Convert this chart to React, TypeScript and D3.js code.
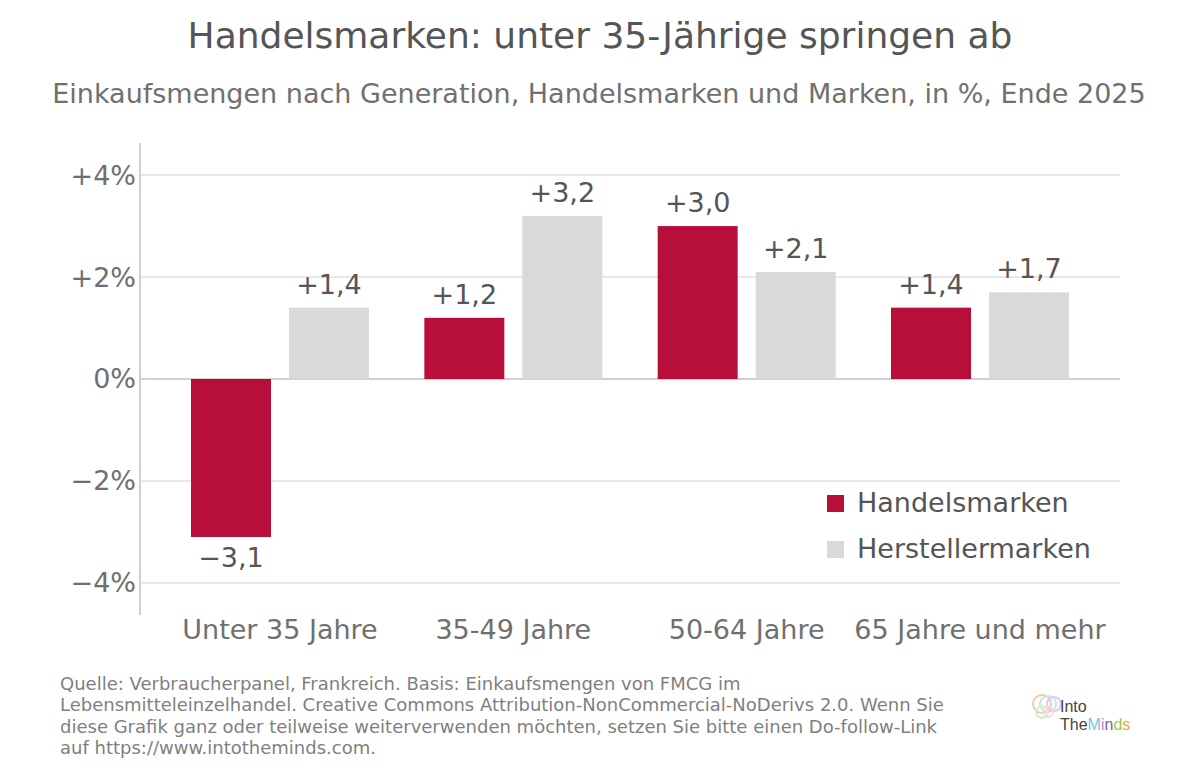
import { useEffect, useRef } from 'react';
import * as d3 from 'd3';

const categories = ['Unter 35 Jahre', '35-49 Jahre', '50-64 Jahre', '65 Jahre und mehr'];
const seriesNames = ['Handelsmarken', 'Herstellermarken'];
const handelsmarken = [-3.1, 1.2, 3.0, 1.4];
const herstellermarken = [1.4, 3.2, 2.1, 1.7];
const yTicks = [-4, -2, 0, 2, 4];
const footerLines = [
  'Quelle: Verbraucherpanel, Frankreich. Basis: Einkaufsmengen von FMCG im',
  'Lebensmitteleinzelhandel. Creative Commons Attribution-NonCommercial-NoDerivs 2.0. Wenn Sie',
  'diese Grafik ganz oder teilweise weiterverwenden möchten, setzen Sie bitte einen Do-follow-Link',
  'auf https://www.intotheminds.com.',
];

const W = 1200;
const H = 777;
const FONT = '"DejaVu Sans", sans-serif';
const COLORS = ['#b70f3a', '#d9d9d9'];

const fmt = (v: number) => (v > 0 ? '+' : v < 0 ? '\u2212' : '') + Math.abs(v).toFixed(1).replace('.', ',');
const fmtTick = (v: number) => (v > 0 ? '+' : v < 0 ? '\u2212' : '') + Math.abs(v) + '%';

export default function App() {
  const svgRef = useRef<SVGSVGElement>(null);

  useEffect(() => {
    document.body.style.margin = '0';
    if (!svgRef.current) return;
    const margin = { top: 143, right: 80, bottom: 162, left: 140 };
    const innerW = W - margin.left - margin.right;
    const innerH = H - margin.top - margin.bottom;

    const svg = d3.select(svgRef.current);
    svg.selectAll('*').remove();
    svg.attr('width', W).attr('height', H).style('font-family', FONT);

    svg.append('rect').attr('width', W).attr('height', H).attr('fill', '#fff');

    // Titles
    svg.append('text')
      .attr('x', W / 2).attr('y', 48)
      .attr('text-anchor', 'middle')
      .attr('font-size', 36).attr('fill', '#555')
      .text('Handelsmarken: unter 35-Jährige springen ab');
    svg.append('text')
      .attr('x', W / 2 - 1).attr('y', 103)
      .attr('text-anchor', 'middle')
      .attr('font-size', 27).attr('fill', '#707070')
      .text('Einkaufsmengen nach Generation, Handelsmarken und Marken, in %, Ende 2025');

    const g = svg.append('g').attr('transform', `translate(${margin.left},${margin.top})`);

    const y = d3.scaleLinear().domain([-4.63, 4.63]).range([innerH, 0]);
    const x0 = d3.scalePoint<string>().domain(categories).range([0, innerW]).padding(0.6);
    const x1 = d3.scaleBand<string>().domain(seriesNames).range([-89, 89]).paddingInner(18 / 98);

    // Grid
    g.append('g')
      .selectAll('line')
      .data(yTicks)
      .join('line')
      .attr('x1', 0).attr('x2', innerW)
      .attr('y1', (d) => y(d)).attr('y2', (d) => y(d))
      .attr('stroke', (d) => (d === 0 ? '#d0d0d0' : '#e0e0e0'))
      .attr('stroke-width', (d) => (d === 0 ? 2 : 1.5));

    // Y spine + ticks
    g.append('line')
      .attr('x1', 0).attr('x2', 0).attr('y1', 0).attr('y2', innerH)
      .attr('stroke', '#d0d0d0').attr('stroke-width', 2);
    g.append('g')
      .selectAll('text')
      .data(yTicks)
      .join('text')
      .attr('x', -4).attr('y', (d) => y(d))
      .attr('dy', '0.35em')
      .attr('text-anchor', 'end')
      .attr('font-size', 27).attr('fill', '#6f6f6f')
      .text((d) => fmtTick(d));

    const series = [handelsmarken, herstellermarken];
    series.forEach((vals, si) => {
      const grp = g.append('g');
      grp.selectAll('rect')
        .data(vals)
        .join('rect')
        .attr('x', (_, i) => (x0(categories[i]) as number) + (x1(seriesNames[si]) as number))
        .attr('width', x1.bandwidth())
        .attr('y', (d) => y(Math.max(0, d)))
        .attr('height', (d) => Math.abs(y(d) - y(0)))
        .attr('fill', COLORS[si]);
      grp.selectAll('text')
        .data(vals)
        .join('text')
        .attr('x', (_, i) => (x0(categories[i]) as number) + (x1(seriesNames[si]) as number) + x1.bandwidth() / 2)
        .attr('y', (d) => (d >= 0 ? y(d) - 14 : y(d) + 30))
        .attr('text-anchor', 'middle')
        .attr('font-size', 27).attr('fill', '#555')
        .text((d) => fmt(d));
    });

    // Category labels
    g.append('g')
      .selectAll('text')
      .data(categories)
      .join('text')
      .attr('x', (d) => x0(d) as number)
      .attr('y', innerH + 24)
      .attr('text-anchor', 'middle')
      .attr('font-size', 27).attr('fill', '#6f6f6f')
      .text((d) => d);

    // Legend
    const legend = svg.append('g').attr('transform', 'translate(827,495)');
    seriesNames.forEach((name, i) => {
      legend.append('rect')
        .attr('x', 0).attr('y', i * 46)
        .attr('width', 17).attr('height', 17)
        .attr('fill', COLORS[i]);
      legend.append('text')
        .attr('x', 30).attr('y', i * 46 + 8)
        .attr('dy', '0.35em')
        .attr('font-size', 27).attr('fill', '#555')
        .text(name);
    });

    // Footer
    svg.append('g')
      .selectAll('text')
      .data(footerLines)
      .join('text')
      .attr('x', 60).attr('y', (_, i) => 690 + i * 21.3)
      .attr('font-size', 18).attr('fill', '#7f7f7f')
      .text((d) => d);

    // Logo
    const logo = svg.append('g').attr('transform', 'translate(1030,690)');
    const brainColors = ['#f6c9a4', '#c9e3f5', '#e9c6ea', '#d8ecc4', '#f8d9e2'];
    brainColors.forEach((c, i) => {
      logo.append('circle')
        .attr('cx', 12 + (i % 3) * 6).attr('cy', 14 + Math.floor(i / 3) * 8)
        .attr('r', 9 - i)
        .attr('fill', 'none').attr('stroke', c).attr('stroke-width', 2);
    });
    logo.append('text')
      .attr('x', 30).attr('y', 22)
      .attr('font-size', 16).attr('fill', '#444')
      .attr('font-family', '"Liberation Sans", sans-serif')
      .text('Into');
    const mind = logo.append('text')
      .attr('x', 30).attr('y', 40)
      .attr('font-size', 16)
      .attr('font-family', '"Liberation Sans", sans-serif');
    const parts: [string, string][] = [['The', '#444'], ['M', '#7cc3e8'], ['i', '#e77fb0'], ['n', '#8a5aa8'], ['d', '#9bc94a'], ['s', '#f2a24b']];
    parts.forEach(([t, c]) => mind.append('tspan').attr('fill', c).text(t));
  }, []);

  return <svg ref={svgRef} />;
}
